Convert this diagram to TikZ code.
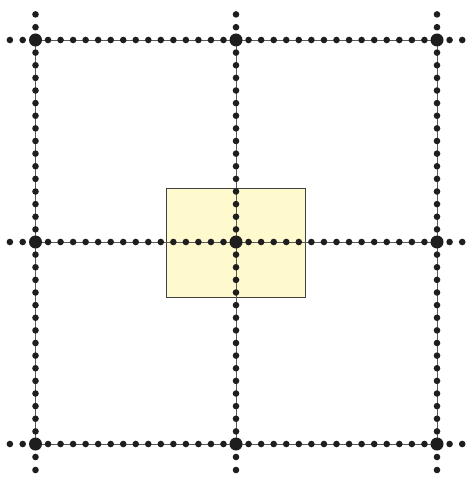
\documentclass[tikz,border=0pt]{standalone}
\usetikzlibrary{calc}
\definecolor{paleyellow}{RGB}{255,249,206}
\definecolor{dotcol}{RGB}{30,30,30}
\begin{document}
\begin{tikzpicture}[x=1pt,y=-1pt,
  bigdot/.style={circle,fill=dotcol,inner sep=0pt,minimum size=13pt},
  smalldot/.style={circle,fill=dotcol,inner sep=0pt,minimum size=6.6pt},
  gridline/.style={draw=black!65,line width=0.9pt},
  boxstyle/.style={draw=black!75,fill=paleyellow,line width=0.6pt}]
\useasboundingbox (0,0) rectangle (470,478);
\fill[white] (0,0) rectangle (470,478);
\draw[boxstyle] (166,188) rectangle (305,297);
\foreach \i/\x in {0/35.5,1/236,2/437}{
  \foreach \j/\y in {0/40,1/242,2/444}{
    \coordinate (c\i\j) at (\x,\y);
  }
}
% grid lines
\foreach \j in {0,1,2}{\draw[gridline] (c0\j) -- (c2\j);}
\foreach \i in {0,1,2}{\draw[gridline] (c\i0) -- (c\i2);}
% small dots along lines
\foreach \j in {0,1,2}{
  \foreach \k in {1,...,15}{
    \path (c0\j) -- (c1\j) node[smalldot,pos=\k/16] {};
    \path (c1\j) -- (c2\j) node[smalldot,pos=\k/16] {};
  }
}
\foreach \i in {0,1,2}{
  \foreach \k in {1,...,15}{
    \path (c\i0) -- (c\i1) node[smalldot,pos=\k/16] {};
    \path (c\i1) -- (c\i2) node[smalldot,pos=\k/16] {};
  }
}
% outer dots
\foreach \i in {0,1,2}{
  \node[smalldot] at ($(c\i0)+(0,-12.8)$) {};
  \node[smalldot] at ($(c\i0)+(0,-25.6)$) {};
  \node[smalldot] at ($(c\i2)+(0,13)$) {};
  \node[smalldot] at ($(c\i2)+(0,26)$) {};
}
\foreach \j in {0,1,2}{
  \node[smalldot] at ($(c0\j)+(-12.8,0)$) {};
  \node[smalldot] at ($(c0\j)+(-25.6,0)$) {};
  \node[smalldot] at ($(c2\j)+(12.6,0)$) {};
  \node[smalldot] at ($(c2\j)+(25.2,0)$) {};
}
% big dots
\foreach \i in {0,1,2}{
  \foreach \j in {0,1,2}{
    \node[bigdot] (g\i\j) at (c\i\j) {};
  }
}
\end{tikzpicture}
\end{document}
